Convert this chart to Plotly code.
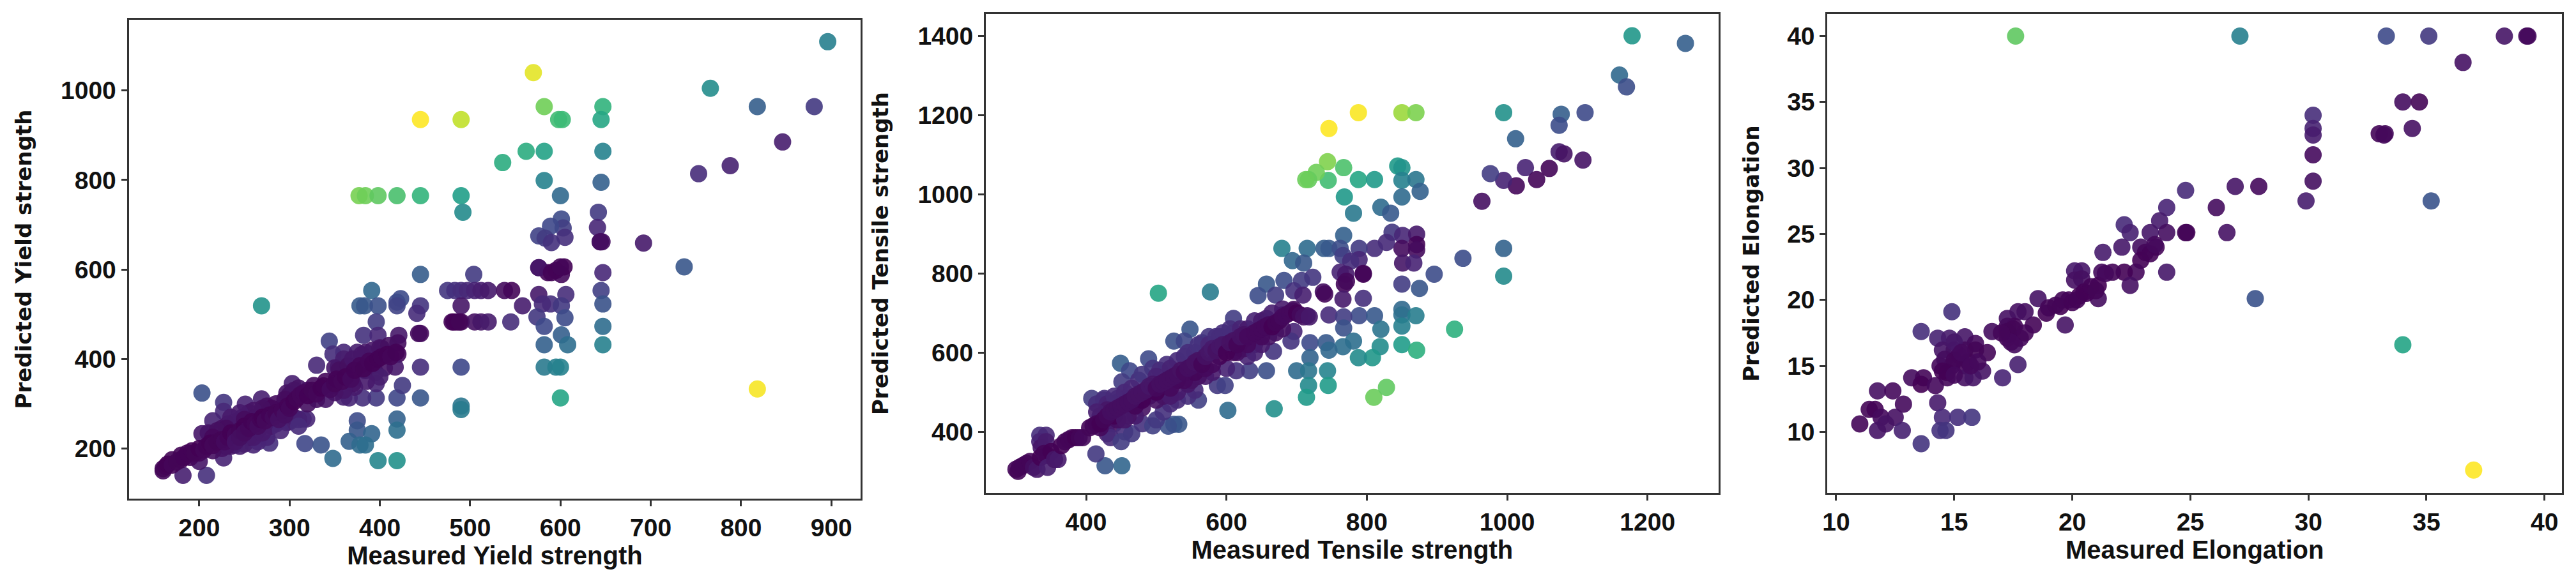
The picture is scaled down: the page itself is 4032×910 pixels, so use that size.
import numpy as np
import plotly.graph_objects as go

yield_points = [
(896,1109),(766,1005),(818,964),(881,964),(570,1040),(445,935),(490,935),(582,964),(598,935),(602,935),(647,964),(645,935),
(647,864),(582,864),(562,864),(536,839),(582,799),(645,795),(600,765),(377,765),(384,765),(398,765),(419,765),(445,765),(490,765),
(492,728),(846,885),(788,832),(753,814),(737,606),(692,659),(818,333),(642,728),(641,694),(644,662),(646,662),
(601,713),(603,693),(589,697),(605,672),(576,675),(583,670),(590,660),(576,604),(586,593),(601,589),(604,606),(595,598),(647,593),
(445,589),(504,589),(391,553),(475,553),(483,553),(490,553),(497,553),(505,553),(512,553),(520,553),(538,553),(546,553),
(576,544),(606,544),(645,553),(647,523),(378,519),(383,519),(398,519),(269,519),(419,527),(423,535),(419,519),(445,519),(441,502),
(490,519),(558,519),(589,523),(580,523),(601,519),(396,483),(480,483),(485,483),(490,483),(505,483),(512,483),(520,483),(545,483),
(574,494),(582,473),(605,492),(647,473),(601,454),(608,432),(582,432),(647,432),(445,457),(421,453),(382,453),(398,453),(344,440),
(490,382),(445,382),(582,382),(595,382),(600,382),(600,313),(490,295),(490,287),(445,313),(419,313),(396,313),(381,313),(366,313),
(396,345),(425,341),(419,266),(419,241),(375,262),(375,241),(391,233),(366,216),(378,208),(384,208),(348,178),(398,173),(419,173),
(317,211),(335,208),(203,324),(182,140),(208,140),(227,179),(227,303),(227,283),(251,299),(269,311),(215,262),(203,233),(200,171),
(278,212),(315,266),(319,266),(260,208),(239,208),(297,258),(303,345),(297,324),(330,386),(327,341),(348,341),(354,382),(360,415),
(375,415),(348,411),(384,415),(402,424),(420,436),(408,411),(420,411),(417,382),(384,374),(372,374),(393,386),(372,337),
(210,235),(225,245),(232,255),(240,260),(248,270),(255,280),(262,270),(270,285),(275,295),(285,255),(290,290),(300,260),(305,270),
(310,265),(225,200),(235,205),(250,210),(265,215),(275,225),(240,225),(255,225),(285,300),(300,320),(320,300),(340,310),(360,315),
(360,400),(350,380),(340,350),(355,375),(365,385),(370,400),(380,410),(392,420),(400,425),(410,430),(395,370),(405,380),(400,360),
(385,350),(370,345),(360,330),(350,325),(330,310),(320,330),(310,335),(305,330),(295,310),(280,290),(270,290),(260,285),(245,280),
(235,270),(230,245),(220,240),(215,225),(250,265),(265,240),(280,250),(290,240),(310,250),(245,205),(260,225),(270,235),(230,205),
(215,195),(200,190),(190,180),(180,185),(170,175),
(160,150),(160,155),(163,160),(165,165),(170,163),(175,170),(180,175),(183,180),(187,190),(192,195),(195,190),(200,200),(205,197),
(208,205),(212,212),(215,207),(220,215),(225,220),(228,215),(232,225),(235,235),(240,230),(240,215),(245,240),(245,225),(250,250),
(250,235),(255,245),(258,260),(262,255),(265,250),(268,265),(270,270),(273,262),(278,275),(282,270),(285,280),(288,265),(292,285),
(295,275),(298,295),(300,290),(305,305),(308,312),(312,320),(316,325),(320,318),(325,330),(330,322),(335,335),(338,340),(345,332),
(350,345),(352,355),(358,350),(362,360),(368,355),(372,375),(378,385),(382,378),(388,395),(392,390),(398,400),(402,405),(408,410),
(412,405),(418,415),(443,457),(644,662),(576,604),(590,593),(600,606),(482,483),(488,483),
]

tensile_points = [
(1178,1400),(1254,1381),(1160,1301),(1170,1271),(788,1206),(746,1166),(850,1206),(870,1206),(995,1206),(1077,1202),(1111,1206),
(1074,1174),(1012,1140),(1074,1107),(1081,1102),(1108,1086),(1060,1065),(1026,1067),(1042,1037),(1013,1021),(995,1035),(976,1052),
(964,982),(744,1082),(767,1067),(745,1035),(728,1055),(717,1037),(713,1037),(788,1037),(811,1037),(844,1071),(850,1067),(850,1035),
(870,1037),(876,1007),(850,993),(768,993),(820,967),(834,952),(781,952),(836,904),(851,896),(871,899),(871,873),(850,863),(871,859),
(851,826),(867,826),(828,878),(811,863),(789,863),(767,896),(679,863),(715,863),(739,863),(746,863),(762,863),(694,832),(710,826),
(766,845),(789,835),(777,831),(762,803),(770,798),(795,798),(937,838),(995,863),(995,793),(896,798),(657,773),(682,782),(707,782),
(723,790),(696,756),(709,745),(738,753),(768,773),(645,744),(670,745),(766,735),(795,737),(850,773),(875,762),(503,750),(577,753),
(850,709),(850,695),(870,693),(789,693),(811,693),(746,695),(767,690),(767,662),(820,659),(850,667),(925,659),(696,709),(715,693),
(680,695),(657,686),(696,653),(692,629),(719,625),(742,625),(766,615),(781,629),(819,615),(808,587),(788,587),(850,620),(871,606),
(746,606),(719,587),(700,554),(717,554),(744,554),(717,517),(745,517),(714,487),(810,487),(828,512),(668,458),(602,454),(667,603),
(657,554),(633,554),(614,554),(548,659),(525,629),(540,629),(610,686),(449,573),(462,554),(489,584),(451,526),(408,484),(426,484),
(445,484),(525,419),(532,419),(517,414),(427,314),(451,314),(414,344),(560,480),(587,517),(598,517),(334,391),(343,391),(334,375),
(336,360),(343,375),(415,470),(425,480),(435,470),(445,475),(455,485),(420,440),(430,420),(440,420),(455,400),(430,395),(435,385),
(450,375),(465,395),(480,420),(495,415),(500,430),(510,450),(520,470),(530,480),(545,490),(555,505),(475,530),(480,545),(495,560),
(505,555),(515,570),(530,580),(540,590),(565,625),(575,640),(590,640),(610,650),(620,610),(630,590),(640,620),(600,560),(580,550),(570,540),
(430,470),(440,490),(455,500),(465,510),(475,475),(490,490),(500,480),(510,490),(520,490),(530,500),(545,520),(550,530),(560,540),
(555,600),(545,600),(560,620),(575,620),(585,640),(595,650),(605,660),(620,660),(630,660),(640,680),(600,620),(615,600),(625,610),
(640,600),(650,620),(660,640),(670,650),(680,660),(650,680),(665,700),(680,710),(520,560),(530,530),(500,540),(480,460),(470,440),
(460,440),(445,430),(430,455),(415,450),(420,410),(440,440),(455,430),(470,465),(480,480),(500,500),(520,510),(540,530),(555,550),
(570,560),(590,590),(610,600),(630,620),(650,640),(580,570),
(300,305),(303,300),(305,310),(310,315),(315,320),(320,325),(325,310),(330,305),(335,335),(340,345),(345,340),(345,310),(350,350),
(355,330),(360,330),(365,365),(370,375),(375,380),(380,385),(385,385),(390,385),(395,385),(405,410),(410,415),(415,420),(420,420),
(425,430),(430,440),(435,450),(440,455),(445,460),(450,465),(455,470),(460,475),(465,480),(470,490),(475,495),(480,500),(485,505),
(490,515),(495,520),(500,510),(505,520),(510,525),(515,530),(520,535),(525,540),(530,545),(535,555),(540,550),(545,560),(550,565),
(555,575),(560,580),(565,570),(570,590),(575,600),(580,610),(585,605),(590,615),(595,620),(600,600),(605,625),(610,630),(615,620),
(620,640),(625,645),(630,640),(640,650),(645,655),(650,660),(655,665),(660,670),(665,665),(670,675),(675,680),(680,690),(685,695),
(690,700),(695,705),(700,700),(705,695),(710,690),(718,690),(771,780),(740,748),(795,800),
]

elongation_points = [
(17.6,40),(27.1,40),(33.3,40),(35.1,40),(38.3,40),(39.25,40),(39.3,40),(36.55,38),(34,35),(34.7,35),(34.4,33),(33,32.6),(33.2,32.5),
(33.25,32.6),(30.2,34),(30.2,33),(30.2,32.5),(30.2,31),(30.2,29),(29.9,27.5),(35.2,27.5),(27.9,28.6),(26.9,28.6),(24.8,28.3),(26.1,27),
(26.55,25.1),(24.8,25.1),(24.85,25.1),(24,27),(23.7,26),(24,25.1),(23.3,25.1),(22.2,25.7),(22.45,25.1),(22.1,24),(21.3,23.6),(22.9,24),
(23.55,24),(23.1,23.6),(22.9,23),(24,22.1),(22.7,22.1),(22.2,22.1),(21.7,22.1),(21.25,22.1),(22.45,21.1),(21.1,21.1),(21.1,20.1),
(20.1,22.2),(20.4,22.2),(20.1,21.5),(20.4,21.6),(27.75,20.1),(34,16.6),(37,7.1),(18.55,20.1),(18.9,19),(19.5,19.5),(19.85,20),(20.3,20.3),
(20.6,20.5),(19.7,18.1),(18.35,18.1),(17.7,19.1),(18,19.1),(17.25,18.6),(17.55,18),(17.25,18),(16.6,17.6),(17.25,17.1),(17.55,16.6),
(17.8,17.1),(17.25,17.6),(14.9,19.1),(13.6,17.6),(14.3,17.1),(14.8,17.1),(15.45,17.2),(15.9,16.7),(16.4,16),(14.5,16.2),(15,16.2),
(15.45,16.2),(15.9,16.2),(14.4,15),(14.9,15),(15.45,15),(16.2,14.6),(17.7,15.1),(17.05,14.1),(14.7,14.1),(15.45,14.1),(15.8,14.1),
(13.2,14.1),(13.7,14.1),(13.6,13.6),(14.2,13.5),(11.75,13.1),(12.4,13.1),(12.85,12.1),(14.3,12.2),(14.5,11.1),(15.15,11.1),(15.75,11.1),
(11.4,11.7),(11.65,11.7),(11.9,11.1),(12.5,11.1),(11,10.6),(11.75,10.1),(12.1,10.6),(12.8,10.1),(14.4,10.1),(14.65,10.1),(13.6,9.1),
(19,19.4),(19.3,19.6),(19.6,20),(20,19.8),(20.2,20),(20.5,20.6),(20.8,21),(21.4,22),(21,20.7),(23.3,23.5),(23.5,24.2),
(14.6,15.5),(15.2,15.8),(15.6,15.3),(15,15.4),(17.3,17.4),(17.5,17.8),(14.7,14.5),
(18,17.5),(17.4,16.8),(17,17.5),(15,16.8),(15.3,16),(15.7,15),(16,15.3),(14.5,14.6),(15,14.3),
]

measured_yield, predicted_yield = map(np.array, zip(*yield_points))
measured_tensile, predicted_tensile = map(np.array, zip(*tensile_points))
measured_elong, predicted_elong = map(np.array, zip(*elongation_points))

W, H = 4032, 910
panels = [
    dict(x=measured_yield, y=predicted_yield, xt="Measured Yield strength", yt="Predicted Yield strength",
         px=(194, 1342), py=(31, 781), xr=(122, 932.6), yr=(88, 1158),
         xticks=[200,300,400,500,600,700,800,900], yticks=[200,400,600,800,1000], st=36),
    dict(x=measured_tensile, y=predicted_tensile, xt="Measured Tensile strength", yt="Predicted Tensile strength",
         px=(1538, 2687), py=(22, 772), xr=(257, 1301), yr=(245.5, 1455),
         xticks=[400,600,800,1000,1200], yticks=[400,600,800,1000,1200,1400], st=36),
    dict(x=measured_elong, y=predicted_elong, xt="Measured Elongation", yt="Predicted Elongation",
         px=(2858, 4010), py=(22, 772), xr=(9.63, 40.74), yr=(5.37, 41.67),
         xticks=[10,15,20,25,30,35,40], yticks=[10,15,20,25,30,35,40], st=34),
]

fig = go.Figure()
layout = dict(width=W, height=H, margin=dict(l=0, r=0, t=0, b=0), autosize=False,
              paper_bgcolor="white", plot_bgcolor="white", showlegend=False)
tickfont = dict(family="Liberation Sans", size=39, color="#111111", weight="bold")
for i, p in enumerate(panels, 1):
    c = np.abs(p["y"] - p["x"])
    fig.add_trace(go.Scatter(
        x=p["x"], y=p["y"], mode="markers", xaxis=f"x{i}", yaxis=f"y{i}",
        marker=dict(size=27, color=c, colorscale="Viridis", cmin=0, cmax=c.max(), opacity=0.9, line=dict(width=0)),
    ))
    common = dict(showgrid=False, zeroline=False, showline=True, mirror=True, linecolor="#333333", linewidth=3,
                  ticks="outside", ticklen=9, tickwidth=2.5, tickcolor="#333333", tickfont=tickfont)
    layout[f"xaxis{i}"] = dict(domain=[p["px"][0]/W, p["px"][1]/W], range=list(p["xr"]), anchor=f"y{i}",
                               tickvals=p["xticks"],
                               title=dict(text=p["xt"], standoff=10,
                                          font=dict(family="Liberation Sans", size=40, color="#111111", weight="bold")),
                               **common)
    layout[f"yaxis{i}"] = dict(domain=[1-p["py"][1]/H, 1-p["py"][0]/H], range=list(p["yr"]), anchor=f"x{i}",
                               tickvals=p["yticks"],
                               title=dict(text=p["yt"], standoff=p["st"],
                                          font=dict(family="DejaVu Sans", size=34, color="#111111", weight="bold")),
                               **common)
fig.update_layout(**layout)
fig.write_html("out.html", config=dict(displayModeBar=False),
               post_script="document.body.style.margin='0';document.body.style.overflow='hidden';")
